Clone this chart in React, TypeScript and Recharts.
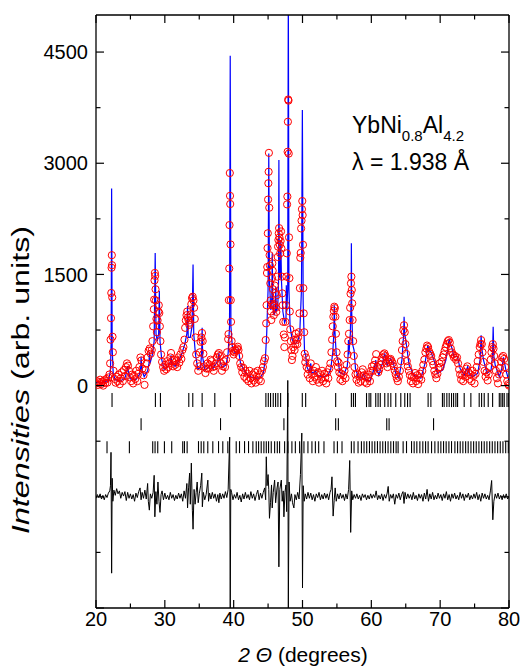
import { ComposedChart, Line, Scatter, XAxis, YAxis, Customized } from "recharts";

// observed intensities, [2theta, counts]
const observed: [number, number][] = [
  [20.0, 30], [20.15, 60], [20.3, 10], [20.45, 45], [20.6, 80], [20.75, 20], [20.9, 55], [21.05, 0],
  [21.2, 70], [21.35, 35], [21.5, 90], [21.65, 40], [21.8, 110], [21.95, 150], [22.05, 300], [22.12, 620],
  [22.18, 910], [22.22, 1250], [22.26, 1590], [22.3, 1760], [22.33, 1625], [22.36, 1190], [22.4, 660], [22.45, 450],
  [22.55, 200], [22.7, 90], [22.85, 40], [23.0, 120], [23.15, 60], [23.3, 150], [23.45, 20], [23.6, 100],
  [23.75, 180], [23.9, 60], [24.05, 210], [24.2, 130], [24.35, 250], [24.5, 300], [24.65, 270], [24.8, 200],
  [24.95, 110], [25.1, 60], [25.25, 150], [25.4, 30], [25.55, 130], [25.7, 90], [25.85, 200], [26.0, 60],
  [26.15, 160], [26.3, 250], [26.45, 380], [26.6, 340], [26.75, 230], [26.9, 140], [27.05, 10], [27.2, 210],
  [27.35, 300], [27.5, 380], [27.65, 470], [27.8, 500], [27.95, 430], [28.1, 480], [28.2, 600], [28.3, 800],
  [28.4, 1030], [28.45, 1160], [28.5, 1420], [28.55, 1520], [28.6, 1480], [28.65, 1300], [28.7, 1150], [28.78, 900],
  [28.85, 720], [28.95, 880], [29.05, 1000], [29.12, 1085], [29.2, 980], [29.28, 800], [29.36, 600], [29.45, 420],
  [29.6, 320], [29.75, 250], [29.9, 200], [30.05, 280], [30.2, 220], [30.35, 330], [30.5, 250], [30.65, 300],
  [30.8, 380], [30.9, 440], [31.05, 330], [31.2, 260], [31.35, 350], [31.5, 280], [31.65, 330], [31.8, 250],
  [31.95, 380], [32.1, 310], [32.25, 420], [32.4, 360], [32.55, 480], [32.7, 520], [32.85, 620], [32.95, 780],
  [33.05, 880], [33.15, 950], [33.25, 1000], [33.35, 920], [33.45, 880], [33.55, 820], [33.65, 850], [33.75, 960],
  [33.85, 1100], [33.95, 1180], [34.05, 1200], [34.15, 1150], [34.25, 1050], [34.35, 900], [34.45, 650], [34.55, 420],
  [34.7, 300], [34.85, 200], [35.0, 260], [35.1, 450], [35.2, 590], [35.3, 650], [35.4, 710], [35.5, 600],
  [35.6, 430], [35.75, 260], [35.9, 170], [36.05, 230], [36.2, 300], [36.35, 230], [36.5, 280], [36.65, 350],
  [36.8, 330], [36.95, 250], [37.1, 200], [37.25, 260], [37.4, 300], [37.55, 380], [37.7, 420], [37.85, 440],
  [38.0, 400], [38.15, 300], [38.3, 200], [38.45, 260], [38.6, 330], [38.75, 250], [38.9, 350], [39.05, 450],
  [39.2, 627], [39.25, 695], [39.3, 1153], [39.36, 1580], [39.4, 2166], [39.44, 2868], [39.47, 2560], [39.5, 2450],
  [39.54, 1905], [39.58, 1153], [39.62, 860], [39.7, 600], [39.8, 520], [39.9, 470], [40.0, 420], [40.1, 450],
  [40.2, 480], [40.35, 470], [40.5, 500], [40.6, 525], [40.7, 480], [40.8, 400], [40.95, 300], [41.1, 250],
  [41.25, 180], [41.4, 240], [41.55, 120], [41.7, 200], [41.85, 90], [42.0, 160], [42.15, 60], [42.3, 200],
  [42.45, 100], [42.6, 30], [42.75, 150], [42.9, 70], [43.05, 180], [43.2, 40], [43.35, 120], [43.5, 200],
  [43.65, 80], [43.8, 150], [43.95, 60], [44.1, 200], [44.25, 250], [44.4, 330], [44.55, 370], [44.65, 615],
  [44.72, 840], [44.78, 1085], [44.84, 1520], [44.88, 1600], [44.92, 1855], [44.96, 2055], [45.0, 2510], [45.04, 2730],
  [45.08, 2885], [45.12, 3140], [45.17, 2400], [45.22, 1760], [45.27, 1620], [45.32, 1380], [45.37, 1150], [45.42, 1000],
  [45.47, 885], [45.52, 1100], [45.57, 1450], [45.62, 1650], [45.67, 1550], [45.72, 1300], [45.77, 1080], [45.83, 950],
  [45.9, 1100], [45.97, 1350], [46.05, 1250], [46.12, 1050], [46.2, 995], [46.28, 1220], [46.34, 1470], [46.4, 1735],
  [46.45, 1875], [46.5, 1965], [46.55, 2055], [46.6, 2125], [46.65, 2000], [46.7, 1900], [46.76, 1785], [46.82, 1950],
  [46.88, 2080], [46.94, 1850], [47.0, 1470], [47.06, 1245], [47.12, 1085], [47.2, 860], [47.28, 690], [47.36, 520],
  [47.44, 650], [47.52, 860], [47.6, 1085], [47.66, 1470], [47.72, 1785], [47.76, 2445], [47.8, 2550], [47.84, 3155],
  [47.88, 3560], [47.92, 3860], [47.96, 3845], [48.0, 3130], [48.04, 2000], [48.1, 1450], [48.16, 1000], [48.22, 760],
  [48.3, 600], [48.38, 480], [48.46, 345], [48.55, 400], [48.65, 520], [48.75, 615], [48.85, 480], [48.95, 560],
  [49.05, 700], [49.15, 615], [49.25, 560], [49.35, 650], [49.45, 720], [49.55, 975], [49.62, 1315], [49.68, 1725],
  [49.74, 1790], [49.8, 2120], [49.86, 2225], [49.92, 2380], [49.97, 2490], [50.02, 2300], [50.07, 1900], [50.12, 1315],
  [50.18, 975], [50.25, 720], [50.32, 430], [50.4, 315], [50.5, 380], [50.6, 250], [50.75, 150], [50.9, 220],
  [51.05, 100], [51.2, 300], [51.35, 160], [51.5, 60], [51.65, 200], [51.8, 120], [51.95, 250], [52.1, 80],
  [52.25, 180], [52.4, 40], [52.55, 150], [52.7, 90], [52.85, 200], [53.0, 60], [53.15, 160], [53.3, 110],
  [53.45, 30], [53.6, 180], [53.75, 100], [53.9, 230], [54.05, 300], [54.2, 450], [54.3, 620], [54.4, 800],
  [54.48, 930], [54.55, 1010], [54.62, 1065], [54.7, 1045], [54.78, 930], [54.86, 700], [54.95, 450], [55.05, 330],
  [55.15, 250], [55.25, 310], [55.35, 180], [55.5, 80], [55.65, 160], [55.8, 60], [55.95, 140], [56.1, 200],
  [56.25, 100], [56.4, 280], [56.55, 420], [56.65, 600], [56.75, 700], [56.85, 885], [56.92, 1050], [56.98, 1240],
  [57.04, 1380], [57.1, 1470], [57.16, 1290], [57.22, 1110], [57.28, 885], [57.36, 600], [57.45, 400], [57.55, 250],
  [57.7, 150], [57.85, 80], [58.0, 160], [58.15, 40], [58.3, 120], [58.45, 60], [58.6, 180], [58.75, 220],
  [58.9, 140], [59.05, 50], [59.2, 120], [59.35, 30], [59.5, 100], [59.65, 150], [59.8, 60], [59.95, 200],
  [60.1, 260], [60.25, 200], [60.4, 280], [60.55, 340], [60.7, 425], [60.85, 250], [61.0, 180], [61.15, 220],
  [61.3, 280], [61.45, 330], [61.6, 380], [61.75, 420], [61.9, 435], [62.05, 400], [62.2, 300], [62.35, 250],
  [62.5, 320], [62.65, 350], [62.8, 360], [62.95, 330], [63.1, 300], [63.25, 260], [63.4, 200], [63.55, 150],
  [63.7, 100], [63.85, 60], [64.0, 120], [64.15, 200], [64.3, 330], [64.45, 480], [64.55, 600], [64.65, 750],
  [64.75, 815], [64.85, 720], [64.95, 560], [65.05, 430], [65.15, 330], [65.3, 260], [65.45, 200], [65.6, 140],
  [65.75, 60], [65.9, 120], [66.05, 30], [66.2, 110], [66.35, 170], [66.5, 60], [66.65, 140], [66.8, 20],
  [66.95, 100], [67.1, 160], [67.25, 80], [67.4, 200], [67.55, 280], [67.7, 350], [67.85, 450], [68.0, 500],
  [68.1, 540], [68.25, 520], [68.4, 460], [68.55, 430], [68.7, 400], [68.85, 330], [69.0, 280], [69.15, 200],
  [69.3, 150], [69.45, 100], [69.6, 160], [69.75, 240], [69.9, 300], [70.05, 250], [70.2, 320], [70.35, 380],
  [70.5, 420], [70.65, 470], [70.8, 520], [70.95, 560], [71.1, 600], [71.25, 615], [71.4, 580], [71.55, 500],
  [71.7, 450], [71.85, 420], [72.0, 380], [72.15, 400], [72.3, 350], [72.45, 380], [72.6, 300], [72.75, 220],
  [72.9, 150], [73.05, 80], [73.2, 140], [73.35, 60], [73.5, 180], [73.65, 120], [73.8, 230], [73.95, 260],
  [74.1, 180], [74.25, 90], [74.4, 150], [74.55, 60], [74.7, 200], [74.85, 130], [75.0, 30], [75.15, 160],
  [75.3, 250], [75.45, 330], [75.6, 420], [75.75, 520], [75.85, 560], [75.95, 615], [76.05, 560], [76.15, 450],
  [76.3, 320], [76.45, 200], [76.6, 120], [76.75, 180], [76.9, 70], [77.05, 150], [77.2, 250], [77.35, 350],
  [77.45, 450], [77.55, 520], [77.65, 560], [77.75, 500], [77.85, 400], [77.95, 300], [78.1, 200], [78.25, 100],
  [78.4, 30], [78.55, 150], [78.7, 240], [78.85, 320], [79.0, 380], [79.15, 400], [79.3, 360], [79.45, 250],
  [79.6, 150], [79.75, 60], [79.9, 20], [80.0, 0],
];

// refined profile
const calculated: [number, number][] = [
  [20.0, 40], [21.0, 45], [21.8, 70], [22.1, 200], [22.2, 600], [22.27, 2660], [22.35, 500], [22.5, 160],
  [22.8, 80], [23.5, 60], [24.2, 100], [24.5, 200], [24.6, 265], [24.7, 190], [25.0, 90], [25.8, 80],
  [26.3, 150], [26.5, 250], [26.55, 390], [26.65, 220], [27.0, 120], [27.5, 200], [27.7, 300], [27.75, 455],
  [27.85, 300], [28.2, 420], [28.45, 600], [28.6, 1790], [28.72, 700], [28.9, 600], [29.1, 700], [29.2, 1280],
  [29.3, 600], [29.55, 350], [29.9, 220], [30.4, 250], [30.8, 320], [30.9, 410], [31.0, 300], [31.5, 260],
  [32.0, 330], [32.5, 440], [32.9, 560], [33.2, 700], [33.3, 1073], [33.4, 650], [33.7, 650], [33.95, 800],
  [34.1, 1635], [34.2, 700], [34.45, 420], [34.8, 220], [35.2, 250], [35.35, 450], [35.42, 780], [35.5, 380],
  [35.8, 210], [36.3, 240], [36.7, 280], [37.0, 230], [37.2, 270], [37.5, 300], [37.8, 380], [37.85, 440],
  [37.95, 350], [38.3, 240], [38.9, 280], [39.2, 440], [39.4, 800], [39.5, 4450], [39.6, 800], [39.8, 530],
  [40.2, 440], [40.55, 450], [40.65, 500], [40.8, 420], [41.0, 300], [41.5, 210], [42.0, 140], [43.0, 100],
  [43.8, 100], [44.3, 170], [44.6, 350], [44.8, 700], [45.0, 1300], [45.1, 3130], [45.2, 1400], [45.4, 1020],
  [45.55, 1200], [45.6, 1785], [45.68, 1150], [45.85, 950], [46.05, 1000], [46.12, 1330], [46.2, 1000], [46.4, 1050],
  [46.52, 1400], [46.57, 3045], [46.63, 1500], [46.75, 1450], [46.85, 1960], [46.95, 1400], [47.15, 1000], [47.4, 850],
  [47.6, 900], [47.65, 1355], [47.72, 1000], [47.85, 1300], [47.94, 5400], [48.03, 1300], [48.2, 800], [48.5, 620],
  [48.9, 560], [49.3, 600], [49.6, 700], [49.85, 1300], [49.98, 3718], [50.1, 1100], [50.3, 450], [50.46, 420],
  [50.6, 260], [51.0, 180], [51.2, 300], [51.35, 170], [51.9, 190], [52.3, 130], [53.0, 120], [53.7, 140],
  [54.1, 220], [54.4, 450], [54.55, 700], [54.62, 1085], [54.7, 750], [54.9, 420], [55.2, 330], [55.4, 180],
  [56.0, 150], [56.5, 260], [56.62, 400], [56.67, 615], [56.75, 420], [56.95, 700], [57.07, 1200], [57.1, 1920],
  [57.15, 1000], [57.3, 550], [57.49, 480], [57.7, 230], [58.1, 120], [58.5, 100], [58.85, 155], [59.2, 80],
  [59.8, 60], [60.3, 200], [60.6, 300], [60.64, 345], [60.75, 240], [61.1, 140], [61.6, 300], [61.95, 435],
  [62.3, 275], [62.83, 365], [63.0, 310], [63.16, 320], [63.55, 165], [64.0, 100], [64.45, 350], [64.7, 700],
  [64.76, 930], [64.85, 700], [65.0, 615], [65.5, 275], [66.2, 140], [67.2, 100], [67.8, 300], [68.2, 545],
  [68.4, 470], [68.65, 455], [69.1, 345], [69.6, 165], [70.35, 210], [70.83, 345], [71.1, 500], [71.3, 625],
  [71.65, 525], [72.0, 390], [72.5, 390], [72.9, 230], [73.5, 140], [74.0, 255], [74.2, 160], [74.7, 120],
  [75.45, 165], [75.8, 350], [75.95, 680], [76.05, 500], [76.3, 345], [76.8, 165], [77.4, 210], [77.6, 400],
  [77.7, 795], [77.8, 400], [78.0, 275], [78.6, 120], [79.0, 250], [79.2, 380], [79.55, 210], [80.0, 60],
];

// observed minus calculated
const difference: [number, number][] = [
  [20.0, -20], [20.2, 30], [20.4, -10], [20.6, 40], [20.8, -30], [21.0, 20], [21.2, -40], [21.4, 30],
  [21.6, -10], [21.8, 50], [22.0, 80], [22.1, 150], [22.18, 600], [22.27, -1030], [22.35, 250], [22.45, -60],
  [22.6, 90], [22.8, 20], [23.0, 110], [23.2, 40], [23.4, 80], [23.6, -20], [23.8, 60], [24.0, 10],
  [24.2, 70], [24.4, -50], [24.6, 60], [24.8, -20], [25.0, 40], [25.2, -30], [25.4, 30], [25.6, -60],
  [25.8, 50], [26.0, -10], [26.2, 70], [26.4, 120], [26.55, -40], [26.7, 60], [26.9, -20], [27.1, 90],
  [27.3, -30], [27.5, 180], [27.6, -60], [27.75, -180], [27.9, 40], [28.1, -20], [28.3, 60], [28.45, 290],
  [28.55, -270], [28.7, 70], [28.85, -100], [29.0, 200], [29.15, -60], [29.3, -210], [29.45, 30], [29.6, 80],
  [29.8, -40], [30.0, 50], [30.2, -30], [30.4, 20], [30.6, -40], [30.8, 60], [31.0, -20], [31.2, 30],
  [31.4, -50], [31.6, 20], [31.8, -30], [32.0, 50], [32.2, -20], [32.4, 40], [32.6, -60], [32.8, 80],
  [33.0, -20], [33.2, 180], [33.3, -150], [33.45, 120], [33.6, 320], [33.7, -100], [33.85, 455], [34.0, -180],
  [34.1, -437], [34.25, 100], [34.4, -100], [34.55, 60], [34.7, 200], [34.85, -80], [35.0, 40], [35.2, 150],
  [35.37, 320], [35.45, -135], [35.6, 60], [35.8, -40], [36.0, 30], [36.25, 225], [36.35, -60], [36.5, 50],
  [36.7, -30], [36.9, 60], [37.1, -20], [37.3, 40], [37.5, -60], [37.7, 30], [37.85, -80], [38.0, 50],
  [38.2, -30], [38.4, 40], [38.6, -20], [38.8, 70], [39.0, -10], [39.2, 100], [39.42, 805], [39.5, -1600],
  [39.58, 100], [39.7, 60], [39.9, -40], [40.1, 30], [40.3, -20], [40.5, 60], [40.7, -40], [40.9, 20],
  [41.1, -70], [41.3, 40], [41.5, -30], [41.7, 60], [41.9, -20], [42.1, 30], [42.3, -40], [42.5, 70],
  [42.7, -20], [42.9, 40], [43.1, -50], [43.3, 30], [43.5, 90], [43.7, -40], [43.9, 50], [44.1, -20],
  [44.3, 60], [44.5, 120], [44.65, -40], [44.74, 540], [44.85, 150], [45.0, 300], [45.1, 100], [45.2, -290],
  [45.35, -80], [45.5, 160], [45.6, -150], [45.75, 60], [45.95, 225], [46.1, -80], [46.3, 120], [46.45, 200],
  [46.57, -945], [46.7, 100], [46.92, 225], [47.05, -60], [47.2, 80], [47.3, -270], [47.45, 60], [47.6, 160],
  [47.7, -200], [47.86, 1570], [47.94, -1600], [48.05, 200], [48.2, -60], [48.4, 40], [48.55, -80], [48.75, -150],
  [48.9, 30], [49.1, -40], [49.3, 60], [49.5, -30], [49.7, 300], [49.9, 860], [50.0, -1230], [50.1, 150],
  [50.25, -60], [50.4, 40], [50.6, -30], [50.8, 60], [51.0, -20], [51.2, 50], [51.4, -40], [51.6, 30],
  [51.8, -60], [52.0, 40], [52.2, -10], [52.4, 60], [52.6, -40], [52.8, 30], [53.0, -30], [53.2, 50],
  [53.4, -20], [53.6, 40], [53.8, -40], [54.0, 60], [54.15, 100], [54.28, 270], [54.45, -260], [54.6, -50],
  [54.75, 120], [54.9, -60], [55.1, 40], [55.3, -30], [55.5, 50], [55.7, -20], [55.9, 30], [56.1, -50],
  [56.3, 40], [56.5, -30], [56.7, 100], [56.86, 490], [57.0, -480], [57.15, 80], [57.3, -40], [57.5, 30],
  [57.7, -20], [57.9, 40], [58.1, -30], [58.3, 20], [58.5, -50], [58.7, 40], [58.9, -10], [59.1, 30],
  [59.3, -40], [59.5, 20], [59.7, -30], [59.9, 40], [60.1, -20], [60.3, 30], [60.5, -10], [60.7, 80],
  [60.9, -40], [61.1, 20], [61.3, -30], [61.5, 40], [61.7, -50], [61.9, 30], [62.1, -20], [62.3, 50],
  [62.45, 140], [62.6, -60], [62.8, 30], [63.0, -20], [63.2, 40], [63.4, -100], [63.6, 30], [63.8, -20],
  [64.0, 50], [64.2, -40], [64.4, 30], [64.6, 70], [64.75, -90], [64.9, 60], [65.1, -30], [65.3, 40],
  [65.5, -20], [65.7, 30], [65.9, -40], [66.1, 60], [66.3, -30], [66.5, 20], [66.7, -50], [66.9, 40],
  [67.1, -20], [67.3, 30], [67.5, -60], [67.7, 50], [67.9, -30], [68.1, 100], [68.3, -60], [68.5, 40],
  [68.7, -30], [68.9, 60], [69.1, -40], [69.3, 20], [69.5, -30], [69.7, 50], [69.9, -20], [70.1, 30],
  [70.3, -50], [70.5, 40], [70.7, -20], [70.9, 70], [71.1, -40], [71.3, 30], [71.5, -60], [71.7, 40],
  [71.9, -20], [72.1, 50], [72.3, -30], [72.5, 20], [72.7, -40], [72.9, 60], [73.1, -20], [73.3, 40],
  [73.5, -50], [73.7, 30], [73.9, -10], [74.1, 50], [74.3, -40], [74.5, 20], [74.7, -30], [74.9, 40],
  [75.1, -20], [75.3, 60], [75.5, -40], [75.7, 30], [75.9, -60], [76.1, 50], [76.3, -20], [76.5, 40],
  [76.7, -30], [76.9, 20], [77.1, -40], [77.3, 80], [77.48, 220], [77.65, -310], [77.8, -60], [78.0, 40],
  [78.2, -20], [78.4, 50], [78.6, -30], [78.8, 20], [79.0, -40], [79.2, 30], [79.4, -20], [79.6, 40],
  [79.8, -30], [80.0, 10],
];

// Bragg reflection positions for the three phases
const phase1 = [
  22.33, 28.63, 29.36, 33.48, 34.06, 35.42, 37.26, 39.54, 44.68, 45.03, 45.36, 45.75, 46.09, 46.43, 46.82,
  47.88, 49.97, 50.46, 54.82, 57.1, 57.4, 57.69, 59.3, 59.67, 59.92, 60.64, 60.98, 61.3, 61.95, 62.43, 62.83,
  63.55, 64.28, 64.86, 65.26, 65.63, 68.25, 68.65, 70.33, 70.58, 70.97, 71.31, 71.65, 71.95, 72.28, 72.53,
  73.49, 74.46, 75.67, 76.02, 76.4, 76.98, 77.62, 78.59, 78.83, 79.08, 79.31, 79.71, 79.95,
];
const phase2 = [26.55, 38.09, 47.3, 54.82, 55.21, 62.24, 62.58, 69.04];
const phase3 = [
  21.6, 24.85, 28.24, 28.58, 28.97, 29.94, 31.0, 32.6, 32.85, 33.24, 34.89, 35.28, 35.66, 36.24, 36.97, 37.8,
  38.42, 39.15, 40.37, 40.85, 41.58, 42.16, 42.79, 43.28, 43.62, 44.0, 44.39, 44.74, 45.07, 45.46, 45.95,
  46.34, 46.67, 47.4, 47.88, 48.46, 48.96, 49.58, 50.21, 50.79, 51.37, 51.87, 52.35, 53.12, 54.58, 55.07,
  55.74, 57.1, 57.49, 58.07, 58.56, 58.94, 59.33, 59.73, 60.11, 60.5, 60.89, 61.27, 61.66, 62.05, 62.43,
  62.83, 63.22, 63.6, 63.89, 64.62, 65.11, 65.84, 66.22, 66.61, 67.05, 67.48, 67.88, 68.25, 68.75, 69.23,
  69.71, 70.1, 70.49, 70.87, 71.27, 71.65, 72.14, 72.53, 72.91, 73.3, 73.7, 74.07, 74.47, 74.86, 75.24,
  75.63, 76.02, 76.4, 76.79, 77.19, 77.57, 77.96, 78.35, 78.73, 79.12, 79.52, 79.9,
];

const xTicks = [20, 25, 30, 35, 40, 45, 50, 55, 60, 65, 70, 75, 80];
const xLabels = [20, 30, 40, 50, 60, 70, 80];
const yTicks = [-3000, -2250, -1500, -750, 0, 750, 1500, 2250, 3000, 3750, 4500];
const yMajor = [-3000, -1500, 0, 1500, 3000, 4500];
const yLabels = [0, 1500, 3000, 4500];

const DIFF_OFFSET = -1500;
const ROW1 = -195;
const ROW2 = -520;
const ROW3 = -830;

const FONT = '"Liberation Sans", Arial, Helvetica, sans-serif';

const obsData = observed.map(([x, y]) => ({ x, y }));
const calcData = calculated.map(([x, y]) => ({ x, y }));
const diffData = difference.map(([x, y]) => ({ x, y: y + DIFF_OFFSET }));
const row1 = phase1.map((x) => ({ x, y: ROW1 }));
const row2 = phase2.map((x) => ({ x, y: ROW2 }));
const row3 = phase3.map((x) => ({ x, y: ROW3 }));

const Circle = (p: any) => (
  <circle cx={p.cx} cy={p.cy} r={3.6} fill="none" stroke="#ff0000" strokeWidth={1} />
);
const barMark = (half: number) => (p: any) => (
  <line x1={p.cx} x2={p.cx} y1={p.cy - half} y2={p.cy + half} stroke="#000" strokeWidth={1.1} />
);

function BottomTick({ x, y, payload }: any) {
  const major = payload.value % 10 === 0;
  return (
    <g>
      <line x1={x} x2={x} y1={y} y2={y - (major ? 8 : 4.5)} stroke="#000" strokeWidth={1.2} />
      {xLabels.includes(payload.value) && (
        <text x={x} y={y + 18} textAnchor="middle" fontSize={20} fontFamily={FONT} fill="#000">
          {payload.value}
        </text>
      )}
    </g>
  );
}

function TopTick({ x, y, payload }: any) {
  const major = payload.value % 10 === 0;
  return <line x1={x} x2={x} y1={y} y2={y + (major ? 8 : 4.5)} stroke="#000" strokeWidth={1.2} />;
}

function LeftTick({ x, y, payload }: any) {
  const major = yMajor.includes(payload.value);
  return (
    <g>
      <line x1={x} x2={x + (major ? 8 : 4.5)} y1={y} y2={y} stroke="#000" strokeWidth={1.2} />
      {yLabels.includes(payload.value) && (
        <text x={x - 8} y={y} dy="0.36em" textAnchor="end" fontSize={20} fontFamily={FONT} fill="#000">
          {payload.value}
        </text>
      )}
    </g>
  );
}

function RightTick({ x, y, payload }: any) {
  const major = yMajor.includes(payload.value);
  return <line x1={x} x2={x - (major ? 8 : 4.5)} y1={y} y2={y} stroke="#000" strokeWidth={1.2} />;
}

function Texts() {
  return (
    <g fontFamily={FONT} fill="#000">
      <text
        transform="translate(29,380) rotate(-90)"
        textAnchor="middle"
        fontSize={23}
        textLength={308}
        lengthAdjust="spacingAndGlyphs"
      >
        <tspan fontStyle="italic">Intensities</tspan>
        {" (arb. units)"}
      </text>
      <text x={303} y={662} textAnchor="middle" fontSize={21}>
        <tspan fontStyle="italic">2 Θ</tspan>
        {" (degrees)"}
      </text>
      <text x={352} y={133} fontSize={23}>
        YbNi
        <tspan fontSize={15} dy={8}>0.8</tspan>
        <tspan dy={-8}>Al</tspan>
        <tspan fontSize={15} dy={8}>4.2</tspan>
      </text>
      <text x={352} y={170} fontSize={23}>
        λ = 1.938 Å
      </text>
    </g>
  );
}

const axisLine = { stroke: "#000", strokeWidth: 1.3 };

export default function App() {
  return (
    <div style={{ position: "absolute", left: 0, top: 0, width: 522, height: 669, background: "#fff" }}>
      <ComposedChart width={522} height={669} margin={{ top: 0, right: 0, bottom: 0, left: 0 }}>
        <XAxis
          xAxisId="b"
          type="number"
          dataKey="x"
          domain={[20, 80]}
          ticks={xTicks}
          interval={0}
          allowDataOverflow
          height={61}
          axisLine={axisLine}
          tickLine={false}
          tickSize={0}
          tickMargin={0}
          tick={BottomTick}
        />
        <XAxis
          xAxisId="t"
          orientation="top"
          type="number"
          dataKey="x"
          domain={[20, 80]}
          ticks={xTicks}
          interval={0}
          allowDataOverflow
          height={15}
          axisLine={axisLine}
          tickLine={false}
          tickSize={0}
          tickMargin={0}
          tick={TopTick}
        />
        <YAxis
          yAxisId="l"
          type="number"
          domain={[-3000, 5000]}
          ticks={yTicks}
          interval={0}
          allowDataOverflow
          width={96}
          axisLine={axisLine}
          tickLine={false}
          tickSize={0}
          tickMargin={0}
          tick={LeftTick}
        />
        <YAxis
          yAxisId="r"
          orientation="right"
          type="number"
          domain={[-3000, 5000]}
          ticks={yTicks}
          interval={0}
          allowDataOverflow
          width={13}
          axisLine={axisLine}
          tickLine={false}
          tickSize={0}
          tickMargin={0}
          tick={RightTick}
        />
        <Scatter xAxisId="b" yAxisId="l" data={obsData} dataKey="y" shape={Circle} isAnimationActive={false} />
        <Line
          xAxisId="b"
          yAxisId="l"
          data={calcData}
          dataKey="y"
          type="linear"
          stroke="#0000ff"
          strokeWidth={1.2}
          dot={false}
          isAnimationActive={false}
        />
        <Scatter xAxisId="b" yAxisId="l" data={row1} dataKey="y" shape={barMark(7)} isAnimationActive={false} />
        <Scatter xAxisId="b" yAxisId="l" data={row2} dataKey="y" shape={barMark(6)} isAnimationActive={false} />
        <Scatter xAxisId="b" yAxisId="l" data={row3} dataKey="y" shape={barMark(6)} isAnimationActive={false} />
        <Line
          xAxisId="b"
          yAxisId="l"
          data={diffData}
          dataKey="y"
          type="linear"
          stroke="#000"
          strokeWidth={1}
          dot={false}
          isAnimationActive={false}
        />
        <Customized component={Texts} />
      </ComposedChart>
    </div>
  );
}
